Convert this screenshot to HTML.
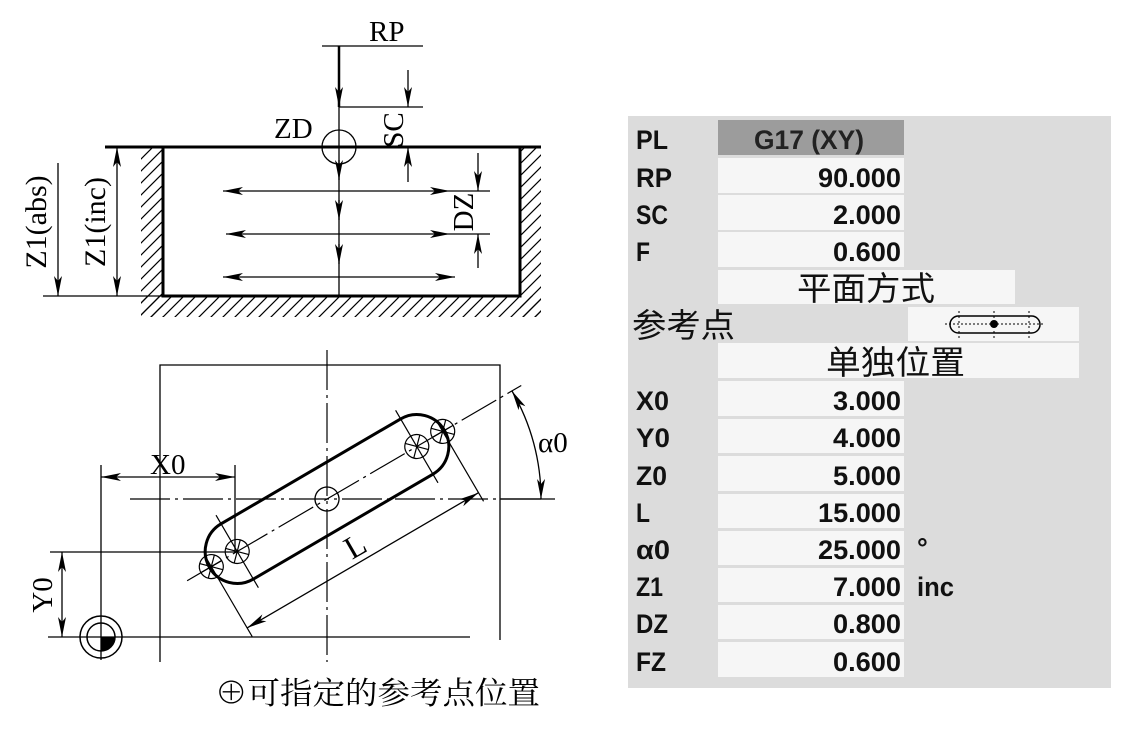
<!DOCTYPE html>
<html><head><meta charset="utf-8"><style>
html,body{margin:0;padding:0;background:#fff;}
svg{display:block;}
.s{font-family:"Liberation Serif","Noto Serif CJK SC",serif;fill:#000;}
.p{font-family:"Liberation Sans","DejaVu Sans",sans-serif;font-weight:bold;font-size:27px;fill:#111;}
.c{font-family:"Liberation Sans","Noto Sans CJK SC",sans-serif;font-size:33px;fill:#111;}
</style></head><body>
<svg width="1148" height="734" viewBox="0 0 1148 734" xmlns="http://www.w3.org/2000/svg">
<defs>
<pattern id="h" width="12" height="12" patternUnits="userSpaceOnUse">
<path d="M-3,15 L15,-3 M-3,3 L3,-3 M9,15 L15,9" stroke="#000" stroke-width="1.2"/>
</pattern>
<marker id="a" viewBox="0 0 20 8" refX="20" refY="4" markerWidth="20" markerHeight="8" markerUnits="userSpaceOnUse" orient="auto-start-reverse">
<path d="M0,0 L20,4 L0,8 L5,4 z" fill="#000"/>
</marker>
</defs>

<!-- ===== TOP SECTION ===== -->
<rect x="141" y="147" width="22" height="170" fill="url(#h)"/>
<rect x="520" y="147" width="21" height="170" fill="url(#h)"/>
<rect x="141" y="296" width="400" height="21" fill="url(#h)"/>
<path d="M163,147 V296 H520 V147" fill="none" stroke="#000" stroke-width="3"/>
<line x1="105" y1="147" x2="541" y2="147" stroke="#000" stroke-width="3"/>
<line x1="43" y1="296" x2="163" y2="296" stroke="#000" stroke-width="1.3"/>

<line x1="322" y1="46" x2="423" y2="46" stroke="#000" stroke-width="1.3"/>
<text x="369" y="41" class="s" font-size="29">RP</text>
<line x1="339" y1="46" x2="339" y2="107" stroke="#000" stroke-width="2.5" marker-end="url(#a)"/>
<line x1="339" y1="107" x2="339" y2="296" stroke="#000" stroke-width="1.3"/>
<line x1="339" y1="107" x2="423" y2="107" stroke="#000" stroke-width="1.3"/>
<circle cx="339" cy="147" r="17" fill="none" stroke="#000" stroke-width="1.3"/>
<text x="274" y="138" class="s" font-size="29">ZD</text>
<line x1="408" y1="70" x2="408" y2="107" stroke="#000" stroke-width="1.3" marker-end="url(#a)"/>
<line x1="408" y1="182" x2="408" y2="147" stroke="#000" stroke-width="1.3" marker-end="url(#a)"/>
<text transform="translate(403,130) rotate(-90)" text-anchor="middle" class="s" font-size="29">SC</text>
<line x1="339" y1="160" x2="339" y2="180" stroke="#000" stroke-width="1.3" marker-end="url(#a)"/>
<line x1="339" y1="200" x2="339" y2="220" stroke="#000" stroke-width="1.3" marker-end="url(#a)"/>
<line x1="339" y1="244" x2="339" y2="264" stroke="#000" stroke-width="1.3" marker-end="url(#a)"/>
<line x1="223" y1="191" x2="450" y2="191" stroke="#000" stroke-width="1.3" marker-start="url(#a)" marker-end="url(#a)"/>
<line x1="226" y1="234" x2="450" y2="234" stroke="#000" stroke-width="1.3" marker-start="url(#a)" marker-end="url(#a)"/>
<line x1="223" y1="277" x2="455" y2="277" stroke="#000" stroke-width="1.3" marker-start="url(#a)" marker-end="url(#a)"/>
<line x1="450" y1="191" x2="490" y2="191" stroke="#000" stroke-width="1.3"/>
<line x1="450" y1="234" x2="490" y2="234" stroke="#000" stroke-width="1.3"/>
<line x1="478" y1="153" x2="478" y2="191" stroke="#000" stroke-width="1.3" marker-end="url(#a)"/>
<line x1="478" y1="268" x2="478" y2="234" stroke="#000" stroke-width="1.3" marker-end="url(#a)"/>
<text transform="translate(473,212) rotate(-90)" text-anchor="middle" class="s" font-size="29">DZ</text>
<line x1="58" y1="163" x2="58" y2="296" stroke="#000" stroke-width="1.3" marker-end="url(#a)"/>
<text transform="translate(46,222) rotate(-90)" text-anchor="middle" class="s" font-size="30">Z1(abs)</text>
<line x1="117" y1="147" x2="117" y2="296" stroke="#000" stroke-width="1.3" marker-start="url(#a)" marker-end="url(#a)"/>
<text transform="translate(105,222) rotate(-90)" text-anchor="middle" class="s" font-size="30">Z1(inc)</text>

<!-- ===== BOTTOM SECTION ===== -->
<path d="M160,662 V365 H500 V640" fill="none" stroke="#000" stroke-width="1.3"/>
<line x1="327" y1="350" x2="327" y2="662" stroke="#000" stroke-width="1.2" stroke-dasharray="40,5,3,5"/>
<line x1="130" y1="499" x2="545" y2="499" stroke="#000" stroke-width="1.2" stroke-dasharray="40,5,3,5"/>
<g transform="rotate(-30.3 327 499)">
<rect x="191" y="467" width="272" height="64" rx="32" fill="none" stroke="#000" stroke-width="3"/>
<line x1="165" y1="499" x2="552" y2="499" stroke="#000" stroke-width="1.2" stroke-dasharray="40,5,3,5"/>
<circle cx="327" cy="499" r="12" fill="none" stroke="#000" stroke-width="1.3"/>
<g fill="none" stroke="#000" stroke-width="1.2">
<circle cx="223" cy="499" r="12"/><circle cx="431" cy="499" r="12"/>
<circle cx="193" cy="499" r="12"/><circle cx="461" cy="499" r="12"/>
<line x1="223" y1="457" x2="223" y2="541"/><line x1="431" y1="457" x2="431" y2="541"/>
<line x1="193" y1="487" x2="193" y2="580"/><line x1="461" y1="487" x2="461" y2="580"/>
<line x1="181" y1="499" x2="205" y2="499"/><line x1="449" y1="499" x2="473" y2="499"/>
<path d="M214.5,490.5 L231.5,507.5 M214.5,507.5 L231.5,490.5 M422.5,490.5 L439.5,507.5 M422.5,507.5 L439.5,490.5 M184.5,490.5 L201.5,507.5 M184.5,507.5 L201.5,490.5 M452.5,490.5 L469.5,507.5 M452.5,507.5 L469.5,490.5"/>
</g>
<line x1="193" y1="570" x2="461" y2="570" stroke="#000" stroke-width="1.3" marker-start="url(#a)" marker-end="url(#a)"/>
</g>
<text transform="translate(352,560) rotate(-30)" class="s" font-size="32">L</text>
<path d="M512,391 A214,214 0 0 1 541,499" fill="none" stroke="#000" stroke-width="1.3" marker-start="url(#a)" marker-end="url(#a)"/>
<line x1="500" y1="499" x2="555" y2="499" stroke="#000" stroke-width="1.2"/>
<text x="538" y="452" class="s" font-size="29">α0</text>
<line x1="101" y1="465" x2="101" y2="660" stroke="#000" stroke-width="1.3"/>
<line x1="235" y1="465" x2="235" y2="552" stroke="#000" stroke-width="1.3"/>
<line x1="101" y1="477" x2="235" y2="477" stroke="#000" stroke-width="1.3" marker-start="url(#a)" marker-end="url(#a)"/>
<text x="150" y="474" class="s" font-size="29">X0</text>
<line x1="50" y1="552" x2="235" y2="552" stroke="#000" stroke-width="1.3"/>
<line x1="48" y1="637" x2="470" y2="637" stroke="#000" stroke-width="1.3"/>
<line x1="62" y1="552" x2="62" y2="637" stroke="#000" stroke-width="1.3" marker-start="url(#a)" marker-end="url(#a)"/>
<text transform="translate(52,595) rotate(-90)" text-anchor="middle" class="s" font-size="29">Y0</text>
<circle cx="101" cy="637" r="21" fill="none" stroke="#000" stroke-width="1.5"/>
<circle cx="101" cy="637" r="14" fill="none" stroke="#000" stroke-width="1.5"/>
<path d="M101,637 H115 A14,14 0 0 1 101,651 z" fill="#000"/>
<text x="215" y="704" class="s" font-size="31" textLength="325" lengthAdjust="spacingAndGlyphs">⊕可指定的参考点位置</text>

<!-- ===== PANEL ===== -->
<rect x="628" y="116" width="483" height="572" fill="#dcdcdc"/>
<rect x="718" y="120" width="186" height="35" fill="#9c9c9c"/>
<g fill="#f6f6f6">
<rect x="718" y="158" width="186" height="35"/>
<rect x="718" y="195" width="186" height="35"/>
<rect x="718" y="232" width="186" height="35"/>
<rect x="718" y="270" width="297" height="34"/>
<rect x="908" y="307" width="171" height="34"/>
<rect x="718" y="343" width="361" height="35"/>
<rect x="718" y="381" width="186" height="35"/>
<rect x="718" y="419" width="186" height="34"/>
<rect x="718" y="456" width="186" height="35"/>
<rect x="718" y="494" width="186" height="34"/>
<rect x="718" y="531" width="186" height="34"/>
<rect x="718" y="568" width="186" height="34"/>
<rect x="718" y="605" width="186" height="34"/>
<rect x="718" y="642" width="186" height="35"/>
</g>
<g class="p" lengthAdjust="spacingAndGlyphs">
<text x="636" y="149" textLength="32" lengthAdjust="spacingAndGlyphs">PL</text>
<text x="636" y="187" textLength="36" lengthAdjust="spacingAndGlyphs">RP</text>
<text x="636" y="224" textLength="32" lengthAdjust="spacingAndGlyphs">SC</text>
<text x="636" y="261" textLength="14" lengthAdjust="spacingAndGlyphs">F</text>
<text x="636" y="410" textLength="33" lengthAdjust="spacingAndGlyphs">X0</text>
<text x="636" y="447" textLength="34" lengthAdjust="spacingAndGlyphs">Y0</text>
<text x="636" y="485" textLength="31" lengthAdjust="spacingAndGlyphs">Z0</text>
<text x="636" y="522" textLength="14" lengthAdjust="spacingAndGlyphs">L</text>
<text x="636" y="559" textLength="34" lengthAdjust="spacingAndGlyphs">α0</text>
<text x="636" y="596" textLength="27" lengthAdjust="spacingAndGlyphs">Z1</text>
<text x="636" y="633" textLength="32" lengthAdjust="spacingAndGlyphs">DZ</text>
<text x="636" y="671" textLength="30" lengthAdjust="spacingAndGlyphs">FZ</text>
</g>
<g class="p">
<text x="754" y="149" textLength="110" lengthAdjust="spacingAndGlyphs" fill="#222">G17 (XY)</text>
<text x="818" y="187" textLength="83" lengthAdjust="spacingAndGlyphs">90.000</text>
<text x="833" y="224" textLength="68" lengthAdjust="spacingAndGlyphs">2.000</text>
<text x="833" y="261" textLength="68" lengthAdjust="spacingAndGlyphs">0.600</text>
<text x="833" y="410" textLength="68" lengthAdjust="spacingAndGlyphs">3.000</text>
<text x="833" y="447" textLength="68" lengthAdjust="spacingAndGlyphs">4.000</text>
<text x="833" y="485" textLength="68" lengthAdjust="spacingAndGlyphs">5.000</text>
<text x="818" y="522" textLength="83" lengthAdjust="spacingAndGlyphs">15.000</text>
<text x="818" y="559" textLength="83" lengthAdjust="spacingAndGlyphs">25.000</text>
<text x="833" y="596" textLength="68" lengthAdjust="spacingAndGlyphs">7.000</text>
<text x="833" y="633" textLength="68" lengthAdjust="spacingAndGlyphs">0.800</text>
<text x="833" y="671" textLength="68" lengthAdjust="spacingAndGlyphs">0.600</text>
</g>
<text x="917" y="557" class="p">°</text>
<text x="917" y="596" class="p" textLength="37" lengthAdjust="spacingAndGlyphs">inc</text>
<text x="797" y="300" class="c" textLength="138" lengthAdjust="spacingAndGlyphs">平面方式</text>
<text x="632" y="337" class="c" textLength="103" lengthAdjust="spacingAndGlyphs">参考点</text>
<text x="826" y="374" class="c" textLength="139" lengthAdjust="spacingAndGlyphs">单独位置</text>
<rect x="950" y="316" width="90" height="17" rx="8.5" fill="none" stroke="#000" stroke-width="1.5"/>
<line x1="945" y1="324" x2="1045" y2="324" stroke="#000" stroke-width="1" stroke-dasharray="2,2"/>
<line x1="959" y1="311" x2="959" y2="339" stroke="#000" stroke-width="1" stroke-dasharray="2,3"/>
<line x1="994" y1="311" x2="994" y2="339" stroke="#000" stroke-width="1" stroke-dasharray="2,3"/>
<line x1="1029" y1="311" x2="1029" y2="339" stroke="#000" stroke-width="1" stroke-dasharray="2,3"/>
<circle cx="994" cy="324" r="4" fill="#000"/>
</svg>
</body></html>
